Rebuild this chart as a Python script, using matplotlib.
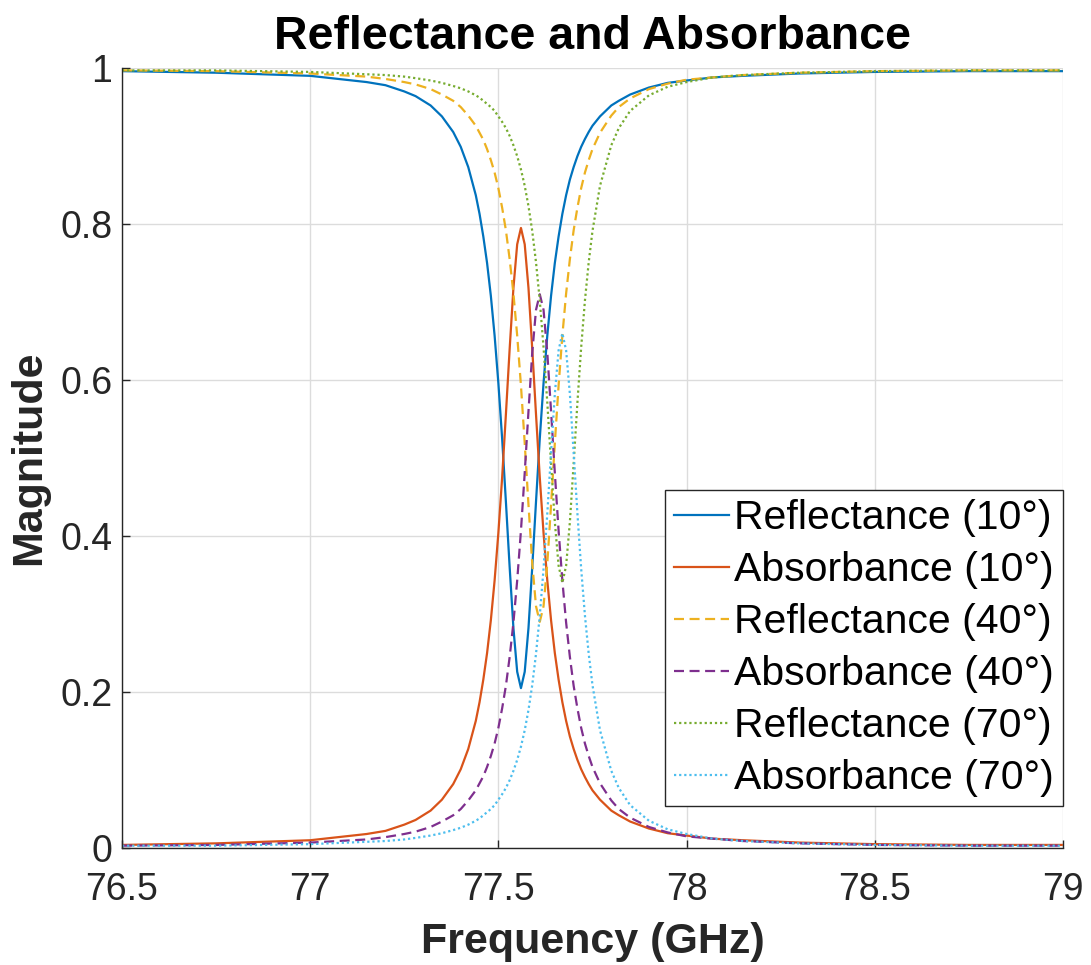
import numpy as np
import matplotlib
matplotlib.use("Agg")
import matplotlib.pyplot as plt

plt.rcParams['font.family'] = ['Liberation Sans', 'DejaVu Sans']

# frequency samples (GHz)
freq = [76.5, 76.75, 77.0, 77.15, 77.20, 77.25, 77.28, 77.32, 77.35, 77.38,
        77.40, 77.42, 77.44, 77.45, 77.46, 77.47, 77.48, 77.49, 77.50, 77.51,
        77.52, 77.53, 77.54, 77.55, 77.56, 77.57, 77.58, 77.59, 77.60, 77.61,
        77.62, 77.63, 77.64, 77.65, 77.66, 77.67, 77.68, 77.69, 77.70, 77.71,
        77.72, 77.73, 77.74, 77.75, 77.77, 77.80, 77.82, 77.85, 77.90, 77.95,
        78.0, 78.07, 78.15, 78.3, 78.5, 78.75, 79.0]

refl_10 = [0.996, 0.994, 0.990, 0.982, 0.978, 0.970, 0.964, 0.952, 0.938, 0.918,
           0.899, 0.873, 0.837, 0.813, 0.784, 0.750, 0.708, 0.657, 0.596, 0.525,
           0.444, 0.360, 0.282, 0.226, 0.205, 0.226, 0.282, 0.360, 0.444, 0.525,
           0.596, 0.657, 0.708, 0.750, 0.784, 0.813, 0.837, 0.857, 0.873, 0.887,
           0.899, 0.909, 0.918, 0.926, 0.938, 0.952, 0.958, 0.966, 0.975, 0.981,
           0.984, 0.988, 0.990, 0.993, 0.995, 0.996, 0.996]
abs_10 = [0.004, 0.006, 0.010, 0.018, 0.022, 0.030, 0.036, 0.048, 0.062, 0.082,
          0.101, 0.127, 0.163, 0.187, 0.216, 0.250, 0.292, 0.343, 0.404, 0.475,
          0.556, 0.640, 0.718, 0.774, 0.795, 0.774, 0.718, 0.640, 0.556, 0.475,
          0.404, 0.343, 0.292, 0.250, 0.216, 0.187, 0.163, 0.143, 0.127, 0.113,
          0.101, 0.091, 0.082, 0.074, 0.062, 0.048, 0.042, 0.034, 0.025, 0.019,
          0.016, 0.012, 0.010, 0.007, 0.005, 0.004, 0.004]

refl_40 = [0.997, 0.996, 0.993, 0.989, 0.986, 0.982, 0.979, 0.973, 0.966, 0.958,
           0.950, 0.939, 0.926, 0.917, 0.908, 0.896, 0.882, 0.866, 0.846, 0.821,
           0.792, 0.755, 0.711, 0.657, 0.593, 0.519, 0.440, 0.365, 0.310, 0.290,
           0.310, 0.365, 0.440, 0.519, 0.593, 0.657, 0.711, 0.755, 0.792, 0.821,
           0.846, 0.866, 0.882, 0.896, 0.917, 0.939, 0.950, 0.961, 0.973, 0.980,
           0.985, 0.988, 0.991, 0.994, 0.996, 0.997, 0.997]
abs_40 = [0.003, 0.004, 0.007, 0.011, 0.014, 0.018, 0.021, 0.027, 0.034, 0.042,
          0.050, 0.061, 0.074, 0.083, 0.092, 0.104, 0.118, 0.134, 0.154, 0.179,
          0.208, 0.245, 0.289, 0.343, 0.407, 0.481, 0.560, 0.635, 0.690, 0.710,
          0.690, 0.635, 0.560, 0.481, 0.407, 0.343, 0.289, 0.245, 0.208, 0.179,
          0.154, 0.134, 0.118, 0.104, 0.083, 0.061, 0.050, 0.039, 0.027, 0.020,
          0.015, 0.012, 0.009, 0.006, 0.004, 0.003, 0.003]

refl_70 = [0.997, 0.997, 0.995, 0.992, 0.991, 0.989, 0.987, 0.984, 0.981, 0.977,
           0.974, 0.970, 0.965, 0.962, 0.958, 0.954, 0.950, 0.945, 0.938, 0.931,
           0.923, 0.913, 0.901, 0.887, 0.870, 0.849, 0.823, 0.791, 0.751, 0.702,
           0.642, 0.571, 0.493, 0.418, 0.362, 0.340, 0.362, 0.418, 0.493, 0.571,
           0.642, 0.702, 0.751, 0.791, 0.849, 0.901, 0.923, 0.945, 0.965, 0.976,
           0.982, 0.988, 0.991, 0.994, 0.996, 0.997, 0.997]
abs_70 = [0.003, 0.003, 0.005, 0.008, 0.009, 0.011, 0.013, 0.016, 0.019, 0.023,
          0.026, 0.030, 0.035, 0.038, 0.042, 0.046, 0.050, 0.055, 0.062, 0.069,
          0.077, 0.087, 0.099, 0.113, 0.130, 0.151, 0.177, 0.209, 0.249, 0.298,
          0.358, 0.429, 0.507, 0.582, 0.638, 0.660, 0.638, 0.582, 0.507, 0.429,
          0.358, 0.298, 0.249, 0.209, 0.151, 0.099, 0.077, 0.055, 0.035, 0.024,
          0.018, 0.012, 0.009, 0.006, 0.004, 0.003, 0.003]

labels = ['Reflectance (10°)', 'Absorbance (10°)', 'Reflectance (40°)',
          'Absorbance (40°)', 'Reflectance (70°)', 'Absorbance (70°)']

dash = (0, (4.5, 2.5))
dot = (0, (1, 1.3))

fig = plt.figure(figsize=(10.91, 9.65), dpi=100)
ax = fig.add_axes([0.1118, 0.1212, 0.8625, 0.8083])

lw = 1.6
ax.plot(freq, refl_10, color='#0072BD', lw=lw, ls='-', label=labels[0])
ax.plot(freq, abs_10, color='#D95319', lw=lw, ls='-', label=labels[1])
ax.plot(freq, refl_40, color='#EDB120', lw=lw, ls=dash, label=labels[2])
ax.plot(freq, abs_40, color='#7E2F8E', lw=lw, ls=dash, label=labels[3])
ax.plot(freq, refl_70, color='#77AC30', lw=lw, ls=dot, label=labels[4])
ax.plot(freq, abs_70, color='#4DBEEE', lw=lw, ls=dot, label=labels[5])

ax.set_xlim(76.5, 79)
ax.set_ylim(0, 1)
ax.set_xticks([76.5, 77, 77.5, 78, 78.5, 79])
ax.set_xticklabels(['76.5', '77', '77.5', '78', '78.5', '79'])
ax.set_yticks([0, 0.2, 0.4, 0.6, 0.8, 1])
ax.set_yticklabels(['0', '0.2', '0.4', '0.6', '0.8', '1'])

ax.grid(True, color='#dcdcdc', lw=1.0)
ax.set_axisbelow(True)
for s in ['top', 'right']:
    ax.spines[s].set_visible(False)
for s in ['left', 'bottom']:
    ax.spines[s].set_color('#262626')
    ax.spines[s].set_linewidth(1.0)
ax.tick_params(direction='in', length=6, width=1, colors='#262626',
               labelsize=27)
ax.tick_params(axis='x', pad=17)
ax.tick_params(axis='y', pad=7)

ax.set_title('Reflectance and Absorbance', fontsize=33.5, fontweight='bold',
             pad=14)
ax.set_xlabel('Frequency (GHz)', fontsize=31, fontweight='bold',
              color='#262626', labelpad=10)
ax.set_ylabel('Magnitude', fontsize=31, fontweight='bold',
              color='#262626', labelpad=8)

leg = ax.legend(loc='lower right', bbox_to_anchor=(1.0, 0.054), fontsize=29.5,
                frameon=True, fancybox=False, framealpha=1,
                edgecolor='#262626', handlelength=1.34, handletextpad=0.12,
                labelspacing=0.34, borderpad=0.22, borderaxespad=0)
leg.get_frame().set_linewidth(1.0)

fig.savefig('out.png', dpi=100)
